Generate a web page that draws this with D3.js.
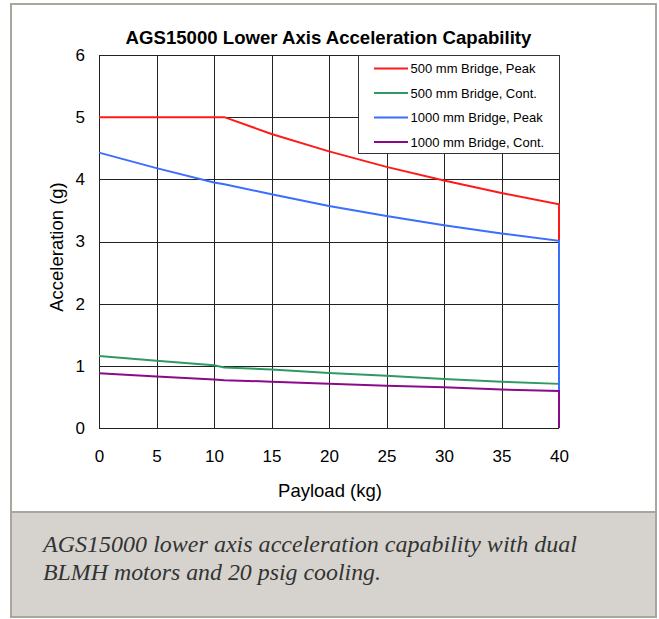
<!DOCTYPE html>
<html><head><meta charset="utf-8">
<script src="https://cdn.jsdelivr.net/npm/d3@7"></script>
<style>body{margin:0;background:#fff}svg{display:block}</style>
</head><body>
<svg id="c" width="659" height="619"></svg>
<script>
const payload = [0, 5, 10, 10.9, 15, 20, 25, 30, 35, 40];
const peak500 = [5.0, 5.0, 5.0, 5.0, 4.73, 4.45, 4.20, 3.98, 3.78, 3.60];
const cont500 = [1.16, 1.08, 1.01, 0.975, 0.94, 0.885, 0.84, 0.79, 0.745, 0.71];
const peak1000 = [4.43, 4.18, 3.95, 3.92, 3.76, 3.57, 3.41, 3.26, 3.13, 3.01];
const cont1000 = [0.88, 0.83, 0.78, 0.77, 0.745, 0.71, 0.68, 0.655, 0.62, 0.595];
const seriesNames = ["500 mm Bridge, Peak", "500 mm Bridge, Cont.", "1000 mm Bridge, Peak", "1000 mm Bridge, Cont."];
const seriesColors = ["#ff1a1a", "#2e9a62", "#3b6dff", "#8a0a8a"];
const xTicks = [0, 5, 10, 15, 20, 25, 30, 35, 40];
const yTicks = [0, 1, 2, 3, 4, 5, 6];
const title = "AGS15000 Lower Axis Acceleration Capability";
const xLabel = "Payload (kg)";
const yLabel = "Acceleration (g)";
const caption = ["AGS15000 lower axis acceleration capability with dual", "BLMH motors and 20 psig cooling."];

const SANS = "Arial,'Liberation Sans',sans-serif";
const svg = d3.select("#c");
// outer frame and caption
svg.append("rect").attr("x",11).attr("y",4).attr("width",645).attr("height",613)
  .attr("fill","#fff").attr("stroke","#aaa69e").attr("stroke-width",2);
svg.append("rect").attr("x",11).attr("y",512).attr("width",645).attr("height",105)
  .attr("fill","#d6d3ce").attr("stroke","#aaa69e").attr("stroke-width",2);
const capWidths = [534, 338];
caption.forEach((c,i)=>svg.append("text")
  .attr("font-family","'Liberation Serif','Times New Roman',Times,serif")
  .attr("font-style","italic").attr("font-size",23).attr("fill","#333")
  .attr("x",43).attr("y",552+i*27.5)
  .attr("textLength",capWidths[i]).attr("lengthAdjust","spacingAndGlyphs").text(c));

const L=99, R=559, T=55, B=428;
const x = d3.scaleLinear().domain([0,40]).range([L,R]);
const y = d3.scaleLinear().domain([0,6]).range([B,T]);
const g = svg.append("g");
// grid
g.selectAll(".vx").data(xTicks).join("line")
  .attr("x1",d=>Math.round(x(d))+0.5).attr("x2",d=>Math.round(x(d))+0.5)
  .attr("y1",T).attr("y2",B).attr("stroke","#222").attr("stroke-width",1);
g.selectAll(".hy").data(yTicks).join("line")
  .attr("y1",d=>Math.round(y(d))+0.5).attr("y2",d=>Math.round(y(d))+0.5)
  .attr("x1",L).attr("x2",R).attr("stroke","#222").attr("stroke-width",1);

// axes labels via d3 axes
const xa = svg.append("g").attr("transform",`translate(0,${B})`)
  .call(d3.axisBottom(x).tickValues(xTicks).tickFormat(d3.format("d")).tickSize(0).tickPadding(22));
const ya = svg.append("g").attr("transform",`translate(${L},0)`)
  .call(d3.axisLeft(y).tickValues(yTicks).tickFormat(d3.format("d")).tickSize(0).tickPadding(14));
[xa,ya].forEach(a=>{a.select(".domain").remove();
  a.selectAll("text").attr("font-family",SANS).attr("font-size",17).attr("fill","#000");});

// lines
const data = [peak500, cont500, peak1000, cont1000];
const line = d3.line().x(d=>x(d[0])).y(d=>y(d[1]));
data.forEach((s,i)=>{
  const pts = payload.map((p,j)=>[p,s[j]]);
  pts.push([40,0]);
  svg.append("path").datum(pts).attr("d", line)
    .attr("fill","none").attr("stroke",seriesColors[i]).attr("stroke-width",2);
});

// title & labels
svg.append("text").attr("x",328.5).attr("y",43.5).attr("text-anchor","middle")
  .attr("font-family",SANS).attr("font-weight","bold").attr("font-size",18.6).text(title);
svg.append("text").attr("x",330).attr("y",497).attr("text-anchor","middle")
  .attr("font-family",SANS).attr("font-size",18.5).text(xLabel);
svg.append("text").attr("transform",`translate(63,247) rotate(-90)`).attr("text-anchor","middle")
  .attr("font-family",SANS).attr("font-size",18.5).text(yLabel);

// legend
const lg = svg.append("g");
lg.append("rect").attr("x",358.5).attr("y",55.5).attr("width",201).attr("height",98)
  .attr("fill","#fff").attr("stroke","#333").attr("stroke-width",1);
seriesNames.forEach((n,i)=>{
  const yy = 68.5 + i*24.5;
  lg.append("line").attr("x1",374).attr("x2",408).attr("y1",yy).attr("y2",yy)
    .attr("stroke",seriesColors[i]).attr("stroke-width",2);
  lg.append("text").attr("x",410.5).attr("y",yy+4.5).attr("font-family",SANS)
    .attr("font-size",13).text(n);
});
</script>
</body></html>
